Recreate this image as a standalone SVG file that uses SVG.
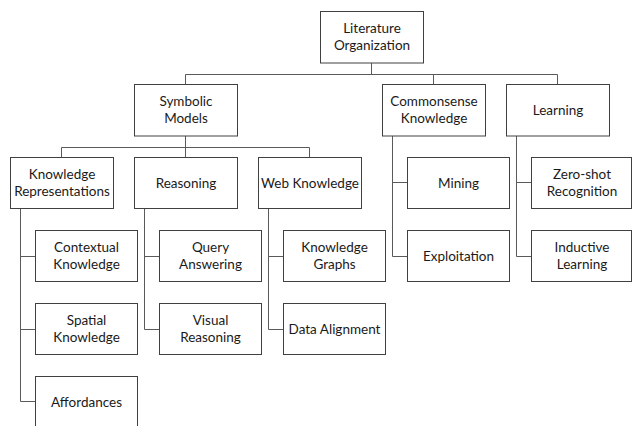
<svg xmlns="http://www.w3.org/2000/svg" width="632" height="426" viewBox="0 0 632 426">
<style>
.box{fill:#fff;stroke:#404040;stroke-width:1}
.con{fill:none;stroke:#5a5a5a;stroke-width:1}
text{font-family:Lato,"Liberation Sans",sans-serif;font-size:13.5px;fill:#1a1a1a;text-anchor:middle}
</style>
<rect width="632" height="426" fill="#fff"/>
<g id="connectors">
<path class="con" d="M371.5 63 V74.5 M185.5 74.5 H557.5 M185.5 74.5 V84.5 M433.5 74.5 V84.5 M557.5 74.5 V84.5"/>
<path class="con" d="M185.5 136 V147.5 M61.5 147.5 H309.5 M61.5 147.5 V157.5 M185.5 147.5 V157.5 M309.5 147.5 V157.5"/>
<path class="con" d="M20.5 208 V401.5 M20.5 256.5 H35.5 M20.5 329.5 H35.5 M20.5 401.5 H35.5"/>
<path class="con" d="M144.5 208 V329.5 M144.5 256.5 H159.5 M144.5 329.5 H159.5"/>
<path class="con" d="M268.5 208 V329.5 M268.5 256.5 H283.5 M268.5 329.5 H283.5"/>
<path class="con" d="M392.5 136 V256.5 M392.5 182.5 H407.5 M392.5 256.5 H407.5"/>
<path class="con" d="M516.5 136 V256.5 M516.5 182.5 H531.5 M516.5 256.5 H531.5"/>
</g>
<g id="literature-organization"><rect class="box" x="320.5" y="11.5" width="103" height="51.5"/><text x="372" y="33">Literature</text><text x="372" y="50">Organization</text></g>
<g id="symbolic-models"><rect class="box" x="134.5" y="84.5" width="103" height="51.5"/><text x="186" y="106">Symbolic</text><text x="186" y="123">Models</text></g>
<g id="commonsense-knowledge"><rect class="box" x="382.5" y="84.5" width="103" height="51.5"/><text x="434" y="106">Commonsense</text><text x="434" y="123">Knowledge</text></g>
<g id="learning"><rect class="box" x="506.5" y="84.5" width="103" height="51.5"/><text x="558" y="115">Learning</text></g>
<g id="knowledge-representations"><rect class="box" x="10.5" y="157.5" width="103" height="51"/><text x="62" y="178.5">Knowledge</text><text x="62" y="195.5">Representations</text></g>
<g id="reasoning"><rect class="box" x="134.5" y="157.5" width="103" height="51"/><text x="186" y="188">Reasoning</text></g>
<g id="web-knowledge"><rect class="box" x="258.5" y="157.5" width="103" height="51"/><text x="310" y="188">Web Knowledge</text></g>
<g id="mining"><rect class="box" x="407.5" y="157.5" width="102" height="51"/><text x="458.5" y="188">Mining</text></g>
<g id="zero-shot-recognition"><rect class="box" x="531.5" y="157.5" width="100" height="51"/><text x="582" y="178.5">Zero-shot</text><text x="582" y="195.5">Recognition</text></g>
<g id="contextual-knowledge"><rect class="box" x="35.5" y="230.5" width="102" height="51"/><text x="86.5" y="251.5">Contextual</text><text x="86.5" y="268.5">Knowledge</text></g>
<g id="query-answering"><rect class="box" x="159.5" y="230.5" width="102" height="51"/><text x="210.5" y="251.5">Query</text><text x="210.5" y="268.5">Answering</text></g>
<g id="knowledge-graphs"><rect class="box" x="283.5" y="230.5" width="102" height="51"/><text x="334.5" y="251.5">Knowledge</text><text x="334.5" y="268.5">Graphs</text></g>
<g id="exploitation"><rect class="box" x="407.5" y="230.5" width="102" height="51"/><text x="458.5" y="261">Exploitation</text></g>
<g id="inductive-learning"><rect class="box" x="531.5" y="230.5" width="100" height="51"/><text x="582" y="251.5">Inductive</text><text x="582" y="268.5">Learning</text></g>
<g id="spatial-knowledge"><rect class="box" x="35.5" y="303.5" width="102" height="51"/><text x="86.5" y="324.5">Spatial</text><text x="86.5" y="341.5">Knowledge</text></g>
<g id="visual-reasoning"><rect class="box" x="159.5" y="303.5" width="102" height="51"/><text x="210.5" y="324.5">Visual</text><text x="210.5" y="341.5">Reasoning</text></g>
<g id="data-alignment"><rect class="box" x="283.5" y="303.5" width="102" height="51"/><text x="334.5" y="334">Data Alignment</text></g>
<g id="affordances"><rect class="box" x="35.5" y="376.5" width="102" height="52"/><text x="86.5" y="407">Affordances</text></g>
</svg>
